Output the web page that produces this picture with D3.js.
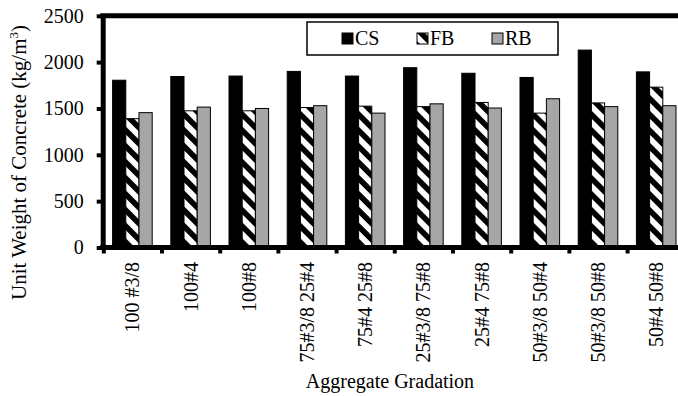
<!DOCTYPE html>
<html>
<head>
<meta charset="utf-8">
<script src="https://cdn.jsdelivr.net/npm/d3@7"></script>
<style>
  html, body { margin: 0; padding: 0; background: #fff; }
  svg { display: block; }
</style>
</head>
<body>
<svg id="chart" width="678" height="396"></svg>
<script>
const categories = ["100 #3/8", "100#4", "100#8", "75#3/8 25#4", "75#4 25#8",
                    "25#3/8 75#8", "25#4 75#8", "50#3/8 50#4", "50#3/8 50#8", "50#4 50#8"];
const seriesNames = ["CS", "FB", "RB"];
const csValues = [1805, 1845, 1850, 1900, 1850, 1940, 1880, 1835, 2130, 1895];
const fbValues = [1390, 1475, 1475, 1510, 1525, 1520, 1565, 1450, 1560, 1730];
const rbValues = [1455, 1515, 1500, 1530, 1450, 1550, 1505, 1605, 1520, 1530];
const yTicks = [0, 500, 1000, 1500, 2000, 2500];
const yLabel = "Unit Weight of Concrete (kg/m";
const xLabel = "Aggregate Gradation";

const FONT = '"Liberation Serif"';
const svg = d3.select("#chart");
const defs = svg.append("defs");
const pat = defs.append("pattern")
  .attr("id", "hatch")
  .attr("patternUnits", "userSpaceOnUse")
  .attr("width", 11.3).attr("height", 11.3)
  .attr("patternTransform", "rotate(-45)");
pat.append("rect").attr("width", 11.3).attr("height", 11.3).attr("fill", "#fff");
pat.append("rect").attr("x", 0).attr("y", 0).attr("width", 5.6).attr("height", 11.3).attr("fill", "#000");

const axisX = 102.7, y0px = 247.5, yTop = 15.8;
const step = 58.2;
const x0 = d3.scaleBand().domain(categories).range([103.3, 103.3 + step * categories.length]).padding(0);
const x1 = d3.scaleBand().domain(seriesNames).range([0, x0.bandwidth()]).paddingInner(0).paddingOuter(0.705);
const y = d3.scaleLinear().domain([0, 2500]).range([y0px, yTop]);
const xEdge = d3.scaleLinear().domain([0, categories.length]).range(x0.range());

const fills = { CS: "#000", FB: "url(#hatch)", RB: "#a6a6a6" };
const data = categories.map((c, i) => ({ cat: c, vals: [
  { s: "CS", v: csValues[i] }, { s: "FB", v: fbValues[i] }, { s: "RB", v: rbValues[i] }] }));

// bars
const groups = svg.append("g").selectAll("g").data(data).join("g")
  .attr("transform", d => `translate(${x0(d.cat)},0)`);
groups.selectAll("rect").data(d => d.vals).join("rect")
  .attr("x", d => x1(d.s))
  .attr("y", d => y(d.v))
  .attr("width", x1.bandwidth())
  .attr("height", d => y(0) - y(d.v))
  .attr("fill", d => fills[d.s])
  .attr("stroke", "#000")
  .attr("stroke-width", 1);

// top frame line
svg.append("line").attr("x1", axisX - 2.5).attr("x2", 690).attr("y1", y(2500)).attr("y2", y(2500))
  .attr("stroke", "#000").attr("stroke-width", 5);

// y axis
const yAxis = svg.append("g").attr("transform", `translate(${axisX},0)`)
  .call(d3.axisLeft(y).tickValues(yTicks).tickFormat(d3.format("d")).tickSize(6).tickPadding(13).tickSizeOuter(0));
yAxis.select(".domain").attr("stroke-width", 5);
yAxis.selectAll(".tick line").attr("stroke-width", 4);
yAxis.selectAll(".tick text").attr("font-size", 20).style("font-family", FONT).attr("fill", "#000");

// x axis line
svg.append("line").attr("x1", axisX - 2.5).attr("x2", 690).attr("y1", y0px).attr("y2", y0px)
  .attr("stroke", "#000").attr("stroke-width", 5);
// x tick marks at band edges
const xTicksG = svg.append("g").attr("transform", `translate(0,${y0px})`)
  .call(d3.axisBottom(xEdge).tickValues(d3.range(categories.length + 1)).tickFormat("").tickSize(6).tickSizeOuter(0));
xTicksG.select(".domain").remove();
xTicksG.selectAll(".tick line").attr("stroke-width", 4);
xTicksG.selectAll(".tick text").remove();

// x category labels
svg.append("g").selectAll("text").data(categories).join("text")
  .attr("transform", d => `translate(${x0(d) + x0.bandwidth() / 2},${y0px + 14.5}) rotate(-90)`)
  .attr("text-anchor", "end")
  .attr("dy", "0.35em")
  .attr("font-size", 20)
  .style("font-family", FONT)
  .text(d => d);

// x title
svg.append("text").attr("x", 390).attr("y", 388).attr("text-anchor", "middle")
  .attr("font-size", 20).style("font-family", FONT).text(xLabel);

// y title
const yt = svg.append("text").attr("transform", "translate(26,162.5) rotate(-90)")
  .attr("text-anchor", "middle").attr("font-size", 21).style("font-family", FONT);
yt.append("tspan").text(yLabel);
yt.append("tspan").attr("font-size", 13).attr("dy", -8).text("3");
yt.append("tspan").attr("dy", 8).text(")");

// legend
const lg = svg.append("g");
lg.append("rect").attr("x", 307).attr("y", 22).attr("width", 251).attr("height", 33)
  .attr("fill", "#fff").attr("stroke", "#000").attr("stroke-width", 1.5);
const legX = d3.scalePoint().domain(seriesNames).range([342, 492]);
const items = lg.selectAll("g.item").data(seriesNames).join("g").attr("class", "item")
  .attr("transform", d => `translate(${legX(d)},33)`);
items.append("rect").attr("width", 11).attr("height", 11)
  .attr("fill", d => fills[d]).attr("stroke", "#000").attr("stroke-width", 1);
items.append("text").attr("x", 13).attr("y", 11.5).attr("font-size", 20)
  .style("font-family", FONT).text(d => d);
</script>
</body>
</html>
